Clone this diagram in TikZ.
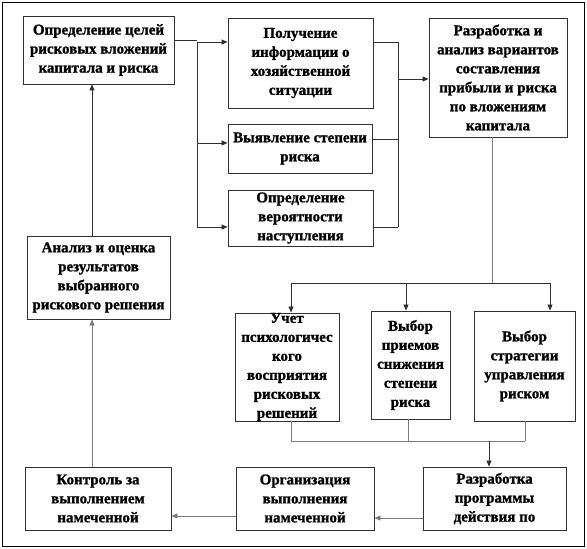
\documentclass[tikz,border=0pt]{standalone}
\usepackage{fontspec}
\setmainfont{Liberation Serif}[BoldFeatures={FakeBold=1.2}]
\usetikzlibrary{arrows.meta,calc}
\definecolor{lnA}{HTML}{303030}
\definecolor{lnB}{HTML}{7A7A7A}
\tikzset{
  box/.style={draw=lnA, line width=0.9pt, fill=white, inner sep=0pt, align=center,
    font=\fontsize{15}{19}\selectfont\bfseries},
  ln/.style={draw=lnA, line width=0.8pt},
  lnl/.style={draw=lnB, line width=0.9pt},
  arr/.style={-{Triangle[length=6pt,width=5pt]}}
}
\begin{document}
\begin{tikzpicture}[x=1pt,y=-1pt]
\useasboundingbox (0,0) rectangle (587,549);
\draw[line width=1pt] (2.5,2.5) rectangle (584.5,546.5);
% boxes
\node[box, minimum width=151, minimum height=68] (b1) at (98.5,50) {Определение целей\\рисковых вложений\\капитала и риска};
\node[box, minimum width=145, minimum height=90] (b2) at (300.5,63) {Получение\\информации о\\хозяйственной\\ситуации};
\node[box, minimum width=144, minimum height=49] (b3) at (300,148.5) {Выявление степени\\риска};
\node[box, minimum width=145, minimum height=56] (b4) at (300.5,218) {Определение\\вероятности\\наступления};
\node[box, minimum width=138, minimum height=119] (b5) at (498,77.5) {Разработка и\\анализ вариантов\\составления\\прибыли и риска\\по вложениям\\капитала};
\node[box, minimum width=143, minimum height=83] (b6) at (98.5,277.5) {Анализ и оценка\\результатов\\выбранного\\рискового решения};
\node[box, minimum width=104, minimum height=108] (b7) at (287,367) {Учет\\психологичес\\кого\\восприятия\\рисковых\\решений};
\node[box, minimum width=79, minimum height=108] (b8) at (410.5,365) {Выбор\\приемов\\снижения\\степени\\риска};
\node[box, minimum width=101, minimum height=110] (b9) at (524.5,366) {Выбор\\стратегии\\управления\\риском};
\node[box, minimum width=143, minimum height=63] (b10) at (494.5,498.5) {Разработка\\программы\\действия по};
\node[box, minimum width=138, minimum height=63] (b11) at (305,498.5) {Организация\\выполнения\\намеченной};
\node[box, minimum width=146, minimum height=63] (b12) at (98,498.5) {Контроль за\\выполнением\\намеченной};
% junction coordinates
\coordinate (jL1) at (197,42);
\coordinate (jL2) at (197,143);
\coordinate (jL3) at (197,227);
\coordinate (jR1) at (398,42);
\coordinate (jR2) at (398,139);
\coordinate (jR3) at (398,227);
\coordinate (jR4) at (398,79);
\coordinate (t0) at (492,283);
\coordinate (t1) at (291,283);
\coordinate (t2) at (406,283);
\coordinate (t3) at (550,283);
\coordinate (u1) at (291,441);
\coordinate (u2) at (408,441);
\coordinate (u3) at (525,441);
\coordinate (u4) at (489,441);
\coordinate (v) at (92,0);
% top-left fan-out
\draw[ln] ([yshift=10]b1.east) -- ([yshift=10]b1.east -| jL1);
\draw[ln] (jL1) -- (jL3);
\draw[ln,arr] (jL1) -- (jL1 -| b2.west);
\draw[ln,arr] (jL2) -- (jL2 -| b3.west);
\draw[ln,arr] (jL3) -- (jL3 -| b4.west);
% fan-in
\draw[ln] (jR1 -| b2.east) -- (jR1);
\draw[ln] (jR2 -| b3.east) -- (jR2);
\draw[ln] (jR3 -| b4.east) -- (jR3);
\draw[ln] (jR1) -- (jR3);
\draw[ln,arr] (jR4) -- (jR4 -| b5.west);
% down from b5
\draw[lnl] (t0 |- b5.south) -- (t0);
\draw[ln] (t1) -- (t3);
\draw[ln,arr] (t1) -- (t1 |- b7.north);
\draw[ln,arr] (t2) -- (t2 |- b8.north);
\draw[ln,arr] (t3) -- (t3 |- b9.north);
% join below
\draw[lnl] (u1 |- b7.south) -- (u1);
\draw[lnl] (u2 |- b8.south) -- (u2);
\draw[lnl] (u3 |- b9.south) -- (u3);
\draw[lnl] (u1) -- (u3);
\draw[ln,arr] (u4) -- (u4 |- b10.north);
% bottom row
\draw[lnl,arr] ([yshift=-19.5]b10.west) -- ([yshift=-19.5]b10.west -| b11.east);
\draw[lnl,arr] ([yshift=-17.5]b11.west) -- ([yshift=-17.5]b11.west -| b12.east);
\draw[lnl,arr] (v |- b12.north) -- (v |- b6.south);
\draw[ln,arr] (v |- b6.north) -- (v |- b1.south);
\end{tikzpicture}
\end{document}
